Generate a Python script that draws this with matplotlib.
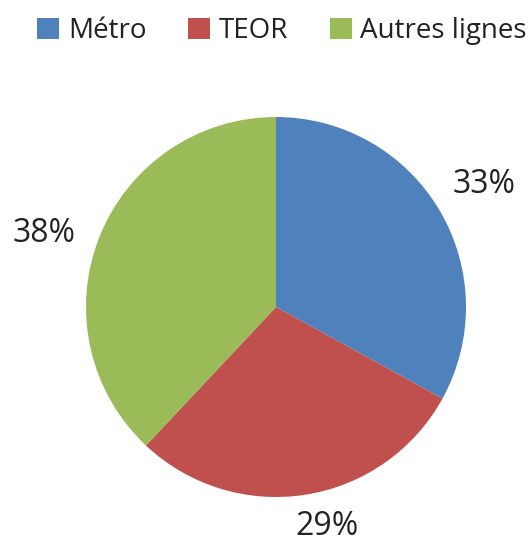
import numpy as np
import matplotlib
matplotlib.use("Agg")
import matplotlib.pyplot as plt
from matplotlib.patches import Patch

categories = ["Métro", "TEOR", "Autres lignes"]
values = [33, 29, 38]
colors = ["#4F81BD", "#C0504D", "#9BBB59"]
label_dist = [1.27, 1.185, 1.28]
label_shift_deg = [0, 4, 4]

plt.rcParams['font.family'] = ['Open Sans', 'DejaVu Sans']

W, H = 531, 543
fig = plt.figure(figsize=(W / 100, H / 100), dpi=100)
cx, cy, r = 276, 307, 190
ax = fig.add_axes([(cx - r) / W, (H - cy - r) / H, 2 * r / W, 2 * r / H])
wedges, _ = ax.pie(values, colors=colors, startangle=90, counterclock=False,
                   radius=1.0, wedgeprops=dict(linewidth=0))
for w, v, d, s in zip(wedges, values, label_dist, label_shift_deg):
    ang = np.deg2rad((w.theta1 + w.theta2) / 2 + s)
    ax.text(d * np.cos(ang), d * np.sin(ang), f"{v}%", ha='center', va='center',
            fontsize=23, color='#222222')
ax.set_xlim(-1, 1)
ax.set_ylim(-1, 1)
ax.set_aspect('equal')
ax.axis('off')

handles = [Patch(facecolor=c, edgecolor='none') for c in colors]
fig.legend(handles, categories, loc='upper center', bbox_to_anchor=(0.531, 1.015),
           ncol=3, frameon=False, fontsize=20, handlelength=0.8, handleheight=0.8,
           handletextpad=0.3, columnspacing=1.5, labelcolor='#222222')

fig.savefig("out.png", dpi=100)
